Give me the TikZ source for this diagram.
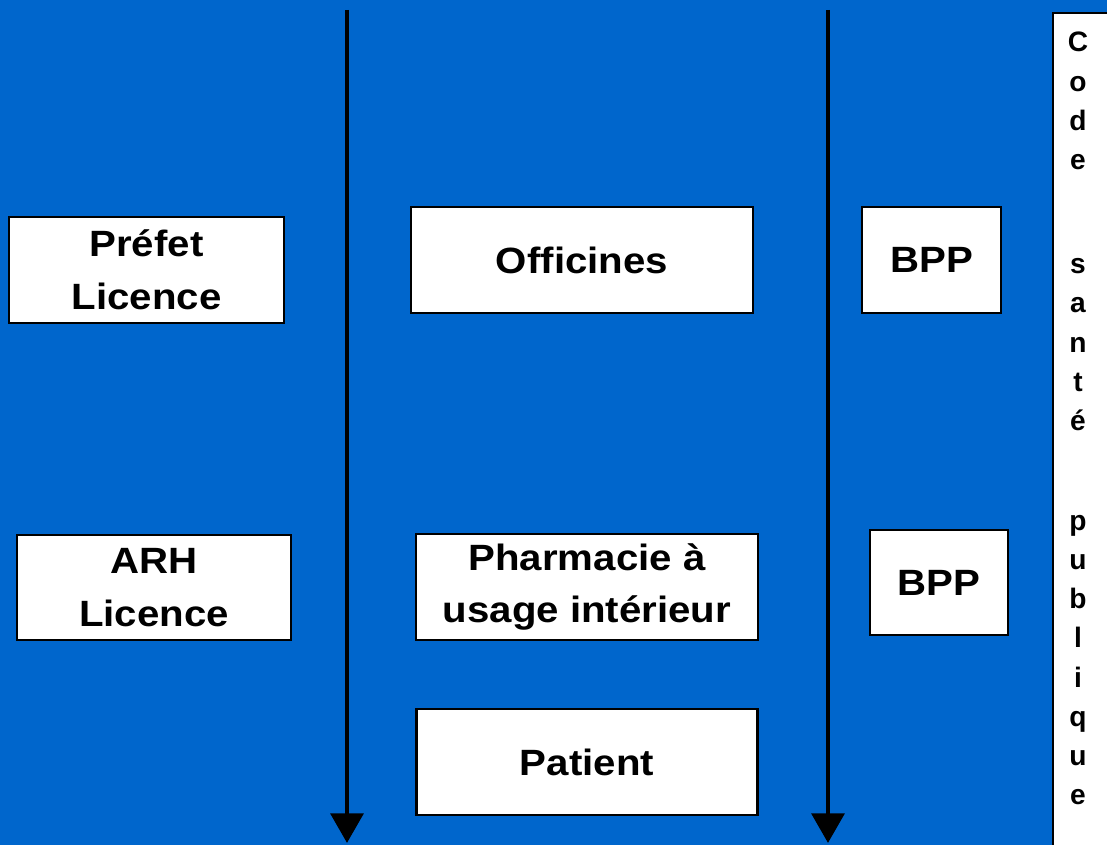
\documentclass[tikz,border=0pt]{standalone}
\usepackage{fontspec}
\setmainfont{Liberation Sans}
\newfontfamily\boitefont[FakeStretch=1.1]{Liberation Sans}
\usetikzlibrary{arrows.meta}
\usetikzlibrary{positioning}
\definecolor{fondbleu}{HTML}{0066CC}

\begin{document}
\begin{tikzpicture}[x=0.025cm, y=-0.025cm,
    boite/.style={draw=black, fill=white, line width=1.5pt, align=center, inner sep=0pt,
        font=\boitefont\bfseries\fontsize{26}{37.6}\selectfont},
    fleche/.style={line width=3.5pt, -{Triangle[width=23pt,length=21pt]}}]
    \useasboundingbox (0,0) rectangle (1107,845);
    \fill[fondbleu] (0,0) rectangle (1107,845);

    \node[boite, minimum width=6.875cm, minimum height=2.65cm] (prefet) at (146.5,270) {Préfet\\Licence};
    \node[boite, minimum width=8.55cm, minimum height=2.65cm] (officines) at (582,260) {Officines};
    \node[boite, minimum width=3.475cm, minimum height=2.65cm] (bpphaut) at (931.5,260) {BPP};

    \node[boite, minimum width=6.85cm, minimum height=2.625cm] (arh) at (154,587.5) {ARH\\Licence};
    \node[boite, minimum width=8.55cm, minimum height=2.65cm] (pui) at (587,587) {Pharmacie à\\usage intérieur};
    \node[boite, minimum width=3.45cm, minimum height=2.625cm] (bppbas) at (939,582.5) {BPP};

    \node[boite, minimum width=8.525cm, minimum height=2.65cm] (patient) at (587,762) {Patient};

    \coordinate (hautA) at (347,10);
    \coordinate (basA) at (347,843);
    \coordinate (hautB) at (828,10);
    \coordinate (basB) at (828,843);
    \draw[fleche] (hautA) -- (basA);
    \draw[fleche] (hautB) -- (basB);

    \node[draw=black, fill=white, line width=1.5pt, minimum width=1.7cm, minimum height=21.5cm,
        anchor=north west] (code) at (1052,12) {};
    \node[anchor=north, inner sep=0pt, align=center, font=\bfseries\fontsize{20}{27.9}\selectfont]
        (codetexte) at (1078,32) {C\\o\\d\\e\\[46pt]s\\a\\n\\t\\é\\[43pt]p\\u\\b\\l\\i\\q\\u\\e};
\end{tikzpicture}
\end{document}
